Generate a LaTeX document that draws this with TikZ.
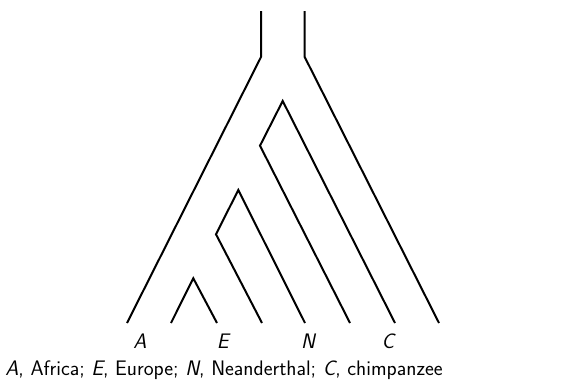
\documentclass[tikz,border=0pt]{standalone}
\begin{document}
\begin{tikzpicture}[x=1pt,y=-1pt,
  branch/.style={line width=2pt,line join=miter},
  lbl/.style={inner sep=0pt,font=\fontsize{21}{24}\selectfont\sffamily}]
\useasboundingbox (0,0) rectangle (562,386);
% outer tube
\draw[branch] (261,11) -- (261,57) -- (127,323);
\draw[branch] (304.7,11) -- (304.7,57) -- (439,323);
% Neanderthal split
\draw[branch] (395,323) -- (282.7,101) -- (260,145.7) -- (350,323);
% Europe split
\draw[branch] (305,323) -- (238.3,190) -- (216,234.3) -- (262,323);
% Africa split
\draw[branch] (171,323) -- (193.3,278.3) -- (217,323);
% labels
\node[lbl] (la) at (140,341) {\itshape A};
\node[lbl] (le) at (222.7,341) {\itshape E};
\node[lbl] (ln) at (308,341) {\itshape N};
\node[lbl] (lc) at (388,341) {\itshape C};
\node[lbl] (cap) at (224,370) {\textit{A}, Africa; \textit{E}, Europe; \textit{N}, Neanderthal; \textit{C}, chimpanzee};
\end{tikzpicture}
\end{document}
